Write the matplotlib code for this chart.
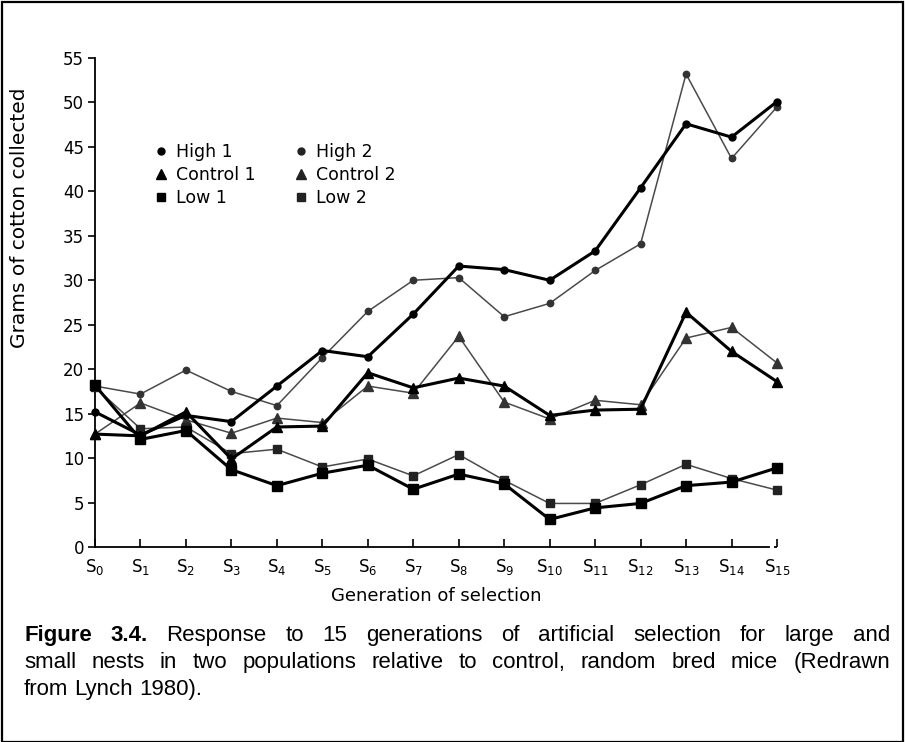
import matplotlib
matplotlib.use("Agg")
import matplotlib.pyplot as plt
from matplotlib.lines import Line2D
from matplotlib.patches import Rectangle
from matplotlib import font_manager

# ---- data -------------------------------------------------------------
generations = list(range(16))
tick_labels = [r"S$_{%d}$" % g for g in generations]

high_1 = [15.2, 12.6, 14.8, 14.1, 18.1, 22.1, 21.4, 26.2, 31.6, 31.2, 30.0, 33.3, 40.4, 47.6, 46.1, 50.1]
high_2 = [18.1, 17.2, 19.9, 17.5, 15.9, 21.3, 26.5, 30.0, 30.3, 25.9, 27.4, 31.1, 34.1, 53.2, 43.7, 49.5]
control_1 = [12.7, 12.5, 15.2, 9.9, 13.5, 13.6, 19.6, 17.9, 19.0, 18.1, 14.8, 15.4, 15.5, 26.4, 22.0, 18.6]
control_2 = [12.7, 16.2, 14.3, 12.8, 14.5, 14.0, 18.1, 17.3, 23.7, 16.3, 14.4, 16.5, 16.0, 23.5, 24.7, 20.7]
low_1 = [18.2, 12.1, 13.1, 8.7, 6.9, 8.3, 9.2, 6.5, 8.2, 7.1, 3.1, 4.4, 4.9, 6.9, 7.3, 8.9]
low_2 = [18.0, 13.3, 13.5, 10.5, 11.0, 9.0, 9.9, 8.0, 10.4, 7.5, 4.9, 4.9, 7.0, 9.3, 7.7, 6.4]

series_names = ["High 1", "Control 1", "Low 1", "High 2", "Control 2", "Low 2"]

caption_lines = [
    [("Figure", True), ("3.4.", True), ("Response", False), ("to", False), ("15", False),
     ("generations", False), ("of", False), ("artificial", False), ("selection", False),
     ("for", False), ("large", False), ("and", False)],
    [("small", False), ("nests", False), ("in", False), ("two", False), ("populations", False),
     ("relative", False), ("to", False), ("control,", False), ("random", False), ("bred", False),
     ("mice", False), ("(Redrawn", False)],
    [("from", False), ("Lynch", False), ("1980).", False)],
]

# ---- fonts --------------------------------------------------------------
def pick_font(candidates):
    for name in candidates:
        try:
            font_manager.findfont(name, fallback_to_default=False)
            return name
        except Exception:
            continue
    return "DejaVu Sans"

axis_font = pick_font(["DejaVu Sans"])
caption_font = pick_font(["Liberation Sans Narrow", "Liberation Sans", "Arial"])
plt.rcParams["font.family"] = [axis_font]
plt.rcParams["mathtext.fontset"] = "dejavusans"

W, H = 905, 742
fig = plt.figure(figsize=(W / 100, H / 100), dpi=100)
fig.patch.set_facecolor("white")

ax = fig.add_axes([95 / W, 1 - 547 / H, (777 - 95) / W, (547 - 58) / H])
ax.set_xlim(0, 15)
ax.set_ylim(0, 55)

thick = dict(color="black", lw=2.2, zorder=4, clip_on=False)
thin = dict(color="#4a4a4a", lw=1.1, zorder=3, clip_on=False)

ax.plot(generations, high_2, marker="o", ms=4.6, mfc="#333333", mec="#333333", **thin)
ax.plot(generations, control_2, marker="^", ms=7, mfc="#333333", mec="#333333", **thin)
ax.plot(generations, low_2, marker="s", ms=6.3, mfc="#222222", mec="#222222", **thin)
ax.plot(generations, high_1, marker="o", ms=5, mfc="black", mec="black", **thick)
ax.plot(generations, control_1, marker="^", ms=7, mfc="black", mec="black", **thick)
ax.plot(generations, low_1, marker="s", ms=6.5, mfc="black", mec="black", **thick)

# axes styling
for s in ("top", "right"):
    ax.spines[s].set_visible(False)
ax.spines["left"].set_linewidth(1.3)
ax.spines["bottom"].set_linewidth(1.3)
ax.spines["left"].set_bounds(0, 55)
ax.spines["bottom"].set_bounds(0, 14.82)
ax.plot([14.93, 15.0], [0, 0], color="black", lw=1.3, clip_on=False, zorder=2,
        solid_capstyle="butt")

ax.set_yticks(range(0, 56, 5))
ax.tick_params(axis="y", direction="out", length=5, width=1.2, pad=3, labelsize=12)
ax.set_xticks(generations)
ax.set_xticklabels(tick_labels)
ax.tick_params(axis="x", direction="in", length=6, width=1.2, pad=7, labelsize=12)

fig.text(436 / W, 1 - 596 / H, "Generation of selection", ha="center", va="center",
         fontsize=13)
fig.text(20 / W, 1 - 218 / H, "Grams of cotton collected", ha="center", va="center",
         rotation=90, fontsize=14.5)

# legend
handles = [
    Line2D([], [], ls="none", marker="o", ms=5, color="black"),
    Line2D([], [], ls="none", marker="^", ms=6.5, color="black"),
    Line2D([], [], ls="none", marker="s", ms=6, color="black"),
    Line2D([], [], ls="none", marker="o", ms=5, color="#222222"),
    Line2D([], [], ls="none", marker="^", ms=6.5, color="#222222"),
    Line2D([], [], ls="none", marker="s", ms=6, color="#222222"),
]
ax.legend(handles, series_names, ncol=2, frameon=False, loc="upper left",
          bbox_to_anchor=(154 / W, 1 - 143 / H), bbox_transform=fig.transFigure,
          fontsize=12.5, handlelength=0.8, handletextpad=0.45, columnspacing=2.25,
          labelspacing=0.3, borderpad=0, borderaxespad=0)

# caption, justified across the first two lines
fig.canvas.draw()
renderer = fig.canvas.get_renderer()
x_left, x_right = 24, 890
line_base = [641, 668, 695]
cap_size = 16


def text_width(s, **kw):
    t = fig.text(0, 0, s, fontsize=cap_size, family=caption_font, **kw)
    w = t.get_window_extent(renderer).width
    t.remove()
    return w


sp = text_width("a b") - text_width("ab")
for i, words in enumerate(caption_lines):
    texts = []
    for w, bold in words:
        t = fig.text(0, 1 - line_base[i] / H, w, fontsize=cap_size, family=caption_font,
                     weight="bold" if bold else "normal", va="baseline", ha="left")
        texts.append(t)
    widths = [t.get_window_extent(renderer).width for t in texts]
    if i < len(caption_lines) - 1:
        gap = (x_right - x_left - sum(widths)) / (len(words) - 1)
    else:
        gap = sp
    x = x_left
    for t, wd in zip(texts, widths):
        t.set_x(x / W)
        x += wd + gap

# outer frame
fig.add_artist(Rectangle((1.5 / W, 0.5 / H), (W - 4) / W, (H - 2) / H,
                         transform=fig.transFigure, fill=False, lw=1.6, ec="black"))

fig.savefig("out.png", dpi=100, facecolor="white")
